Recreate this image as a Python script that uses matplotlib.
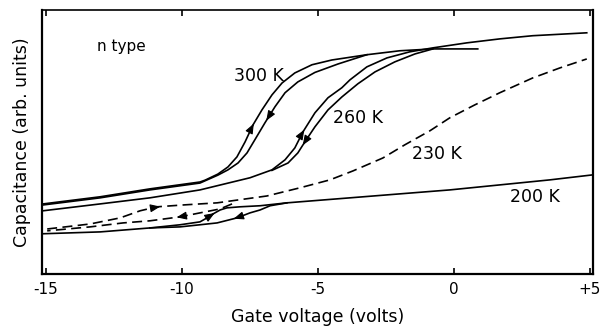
import numpy as np
import matplotlib
matplotlib.use("Agg")
import matplotlib.pyplot as plt

# Gate voltage (V) and capacitance (arb. units)

# 300 K, branch swept up (left) and down (right)
v300_up = [-15.11, -13.01, -11.18, -9.34, -9.15, -8.68, -8.31, -7.98, -7.68, -7.39,
           -7.06, -6.69, -6.32, -5.85, -5.22, -4.49, -3.20, -1.99, -0.77, 0.88]
c300_up = [2.65, 2.92, 3.22, 3.48, 3.55, 3.78, 4.05, 4.43, 5.00, 5.64,
           6.21, 6.78, 7.23, 7.61, 7.92, 8.10, 8.30, 8.45, 8.52, 8.52]
v300_dn = [-15.11, -13.01, -11.18, -9.34, -8.68, -8.31, -7.94, -7.61, -7.32, -6.95,
           -6.58, -6.21, -5.74, -5.11, -4.26, -3.20]
c300_dn = [2.61, 2.88, 3.18, 3.44, 3.74, 3.94, 4.20, 4.58, 5.08, 5.72,
           6.33, 6.86, 7.27, 7.63, 7.95, 8.30]

# 260 K
v260_up = [-15.11, -13.01, -11.18, -9.34, -7.50, -6.69, -6.21, -5.85, -5.55, -5.11,
           -4.63, -4.12, -3.82, -3.20, -2.46, -1.62, -0.77, 0.48, 1.69, 2.90, 4.89]
c260_up = [2.39, 2.65, 2.88, 3.18, 3.64, 3.94, 4.32, 4.77, 5.38, 6.10,
           6.67, 7.05, 7.35, 7.84, 8.18, 8.41, 8.56, 8.75, 8.90, 9.02, 9.13]
v260_dn = [-6.69, -6.10, -5.74, -5.48, -5.11, -4.63, -4.12, -3.53, -2.90, -2.17, -1.43, -0.77]
c260_dn = [3.92, 4.20, 4.58, 5.00, 5.57, 6.21, 6.70, 7.20, 7.65, 8.03, 8.33, 8.52]

# 230 K (dashed)
v230_up = [-14.96, -13.38, -12.28, -11.54, -10.92, -9.96, -8.71, -6.88, -5.66, -4.56,
           -3.71, -2.61, -1.80, -0.88, -0.15, 0.77, 1.69, 2.90, 3.90, 4.89]
c230_up = [1.70, 1.89, 2.12, 2.39, 2.54, 2.61, 2.69, 2.95, 3.26, 3.56,
           3.90, 4.39, 4.89, 5.42, 5.91, 6.40, 6.86, 7.42, 7.80, 8.14]
v230_dn = [-8.16, -8.60, -9.34, -10.07, -11.18, -12.17, -13.38, -14.96]
c230_dn = [2.65, 2.46, 2.31, 2.16, 2.01, 1.93, 1.78, 1.63]

# 200 K
v200_up = [-15.11, -13.01, -11.18, -10.07, -9.34, -9.08, -8.86, -8.60, -8.35, -7.87,
           -7.13, -6.14, -5.66, -3.82, -1.99, -0.15, 1.69, 3.53, 5.11]
c200_up = [1.52, 1.59, 1.74, 1.86, 1.97, 2.12, 2.27, 2.42, 2.50, 2.54,
           2.58, 2.69, 2.73, 2.88, 3.03, 3.18, 3.37, 3.56, 3.75]
v200_dn = [-6.14, -6.76, -7.13, -7.50, -7.98, -8.71, -9.34, -10.07, -11.18]
c200_dn = [2.69, 2.58, 2.42, 2.31, 2.12, 1.93, 1.86, 1.78, 1.74]

xticks = [-15, -10, -5, 0, 5]
xticklabels = ["-15", "-10", "-5", "0", "+5"]

labels = ["n type", "300 K", "260 K", "230 K", "200 K"]
label_v = [-12.24, -7.17, -3.53, -0.63, 2.98]
label_c = [8.60, 7.50, 5.91, 4.55, 2.92]

fig = plt.figure(figsize=(6.03, 3.28), dpi=100)
ax = fig.add_axes([0.0697, 0.165, 0.9133, 0.805])

lw = 1.2
dash = (0, (6, 3.2))
ax.plot(v300_up, c300_up, color="black", lw=lw)
ax.plot(v300_dn, c300_dn, color="black", lw=lw)
ax.plot(v260_up, c260_up, color="black", lw=lw)
ax.plot(v260_dn, c260_dn, color="black", lw=lw)
ax.plot(v230_up, c230_up, color="black", lw=lw, linestyle=dash)
ax.plot(v230_dn, c230_dn, color="black", lw=lw, linestyle=dash)
ax.plot(v200_up, c200_up, color="black", lw=lw)
ax.plot(v200_dn, c200_dn, color="black", lw=lw)


def arrow_on(v, c, v0, step):
    # arrowhead sitting on the curve, pointing in the direction of step
    v = np.asarray(v)
    c = np.asarray(c)
    order = np.argsort(v)
    y0 = np.interp(v0, v[order], c[order])
    y1 = np.interp(v0 - step, v[order], c[order])
    ax.annotate("", xy=(v0, y0), xytext=(v0 - step, y1),
                arrowprops=dict(arrowstyle="-|>,head_length=0.6,head_width=0.24",
                                color="black", lw=0.8, shrinkA=0, shrinkB=0))


arrow_on(v300_up, c300_up, -7.36, 0.06)
arrow_on(v300_dn, c300_dn, -6.90, -0.06)
arrow_on(v260_up, c260_up, -5.50, 0.06)
arrow_on(v260_dn, c260_dn, -5.56, -0.06)
arrow_on(v230_up, c230_up, -10.80, 0.3)
arrow_on(v230_dn, c230_dn, -10.20, -0.3)
arrow_on(v200_up, c200_up, -8.80, 0.15)
arrow_on(v200_dn, c200_dn, -8.10, -0.3)

for t, x, y in zip(labels, label_v, label_c):
    fs = 11 if t == "n type" else 12.5
    ax.text(x, y, t, fontsize=fs, ha="center", va="center")

ax.set_xlim(-15.15, 5.11)
ax.set_ylim(0, 10)
ax.set_xticks(xticks)
ax.set_xticklabels(xticklabels, fontsize=11)
ax.set_yticks([])
ax.tick_params(axis="x", direction="in", top=True, length=4, width=1.2, pad=6)
for s in ax.spines.values():
    s.set_linewidth(1.6)
ax.spines["top"].set_linewidth(1.2)

ax.set_xlabel("Gate voltage (volts)", fontsize=12.5, labelpad=8)
ax.set_ylabel("Capacitance (arb. units)", fontsize=12.5, labelpad=8)

fig.savefig("out.png", dpi=100)
